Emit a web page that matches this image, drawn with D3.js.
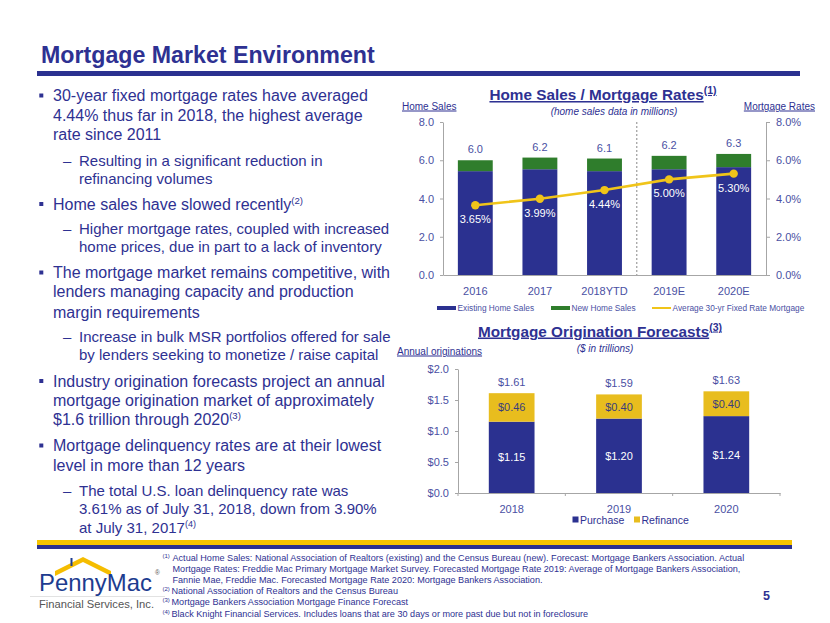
<!DOCTYPE html>
<html>
<head>
<meta charset="utf-8">
<script src="https://cdn.jsdelivr.net/npm/d3@7"></script>
<style>
  html,body{margin:0;padding:0;background:#fff;}
  svg{display:block;font-family:"Liberation Sans",Arial,sans-serif;}
</style>
</head>
<body>
<svg id="chart" width="830" height="623"></svg>
<script>
// ---------------- DATA ----------------
const salesYears = ["2016", "2017", "2018YTD", "2019E", "2020E"];
const existingSales = [5.43, 5.53, 5.43, 5.53, 5.64];
const newSales = [0.57, 0.61, 0.66, 0.70, 0.69];
const salesTotalLabels = ["6.0", "6.2", "6.1", "6.2", "6.3"];
const mortgageRates = [3.65, 3.99, 4.44, 5.00, 5.30];
const salesTicks = [0, 2, 4, 6, 8];
const rateTicks = [0, 0.02, 0.04, 0.06, 0.08];

const origYears = ["2018", "2019", "2020"];
const purchase = [1.15, 1.20, 1.24];
const refinance = [0.46, 0.39, 0.40];
const purchaseLabels = ["$1.15", "$1.20", "$1.24"];
const refinanceLabels = ["$0.46", "$0.40", "$0.40"];
const origTotalLabels = ["$1.61", "$1.59", "$1.63"];
const origTicks = [0, 0.5, 1.0, 1.5, 2.0];

const bullets = [
  {type: "b", lines: ["30-year fixed mortgage rates have averaged", "4.44% thus far in 2018, the highest average", "rate since 2011"], y: [101, 120.5, 140]},
  {type: "s", lines: ["Resulting in a significant reduction in", "refinancing volumes"], y: [165.5, 183.5]},
  {type: "b", lines: ["Home sales have slowed recently"], sup: "(2)", y: [209.5]},
  {type: "s", lines: ["Higher mortgage rates, coupled with increased", "home prices, due in part to a lack of inventory"], y: [234, 252]},
  {type: "b", lines: ["The mortgage market remains competitive, with", "lenders managing capacity and production", "margin requirements"], y: [278, 297, 317.5]},
  {type: "s", lines: ["Increase in bulk MSR portfolios offered for sale", "by lenders seeking to monetize / raise capital"], y: [342, 360]},
  {type: "b", lines: ["Industry origination forecasts project an annual", "mortgage origination market of approximately", "$1.6 trillion through 2020"], sup: "(3)", y: [386.5, 405.5, 424.5]},
  {type: "b", lines: ["Mortgage delinquency rates are at their lowest", "level in more than 12 years"], y: [451, 470.5]},
  {type: "s", lines: ["The total U.S. loan delinquency rate was", "3.61% as of July 31, 2018, down from 3.90%", "at July 31, 2017"], sup: "(4)", y: [496, 514, 532.5]}
];

const footnotes = [
  {n: "(1)", text: "Actual Home Sales: National Association of Realtors (existing) and the Census Bureau (new). Forecast: Mortgage Bankers Association. Actual"},
  {n: "", text: "Mortgage Rates: Freddie Mac Primary Mortgage Market Survey. Forecasted Mortgage Rate 2019: Average of Mortgage Bankers Association,"},
  {n: "", text: "Fannie Mae, Freddie Mac. Forecasted Mortgage Rate 2020: Mortgage Bankers Association."},
  {n: "(2)", text: "National Association of Realtors and the Census Bureau"},
  {n: "(3)", text: "Mortgage Bankers Association Mortgage Finance Forecast"},
  {n: "(4)", text: "Black Knight Financial Services. Includes loans that are 30 days or more past due but not in foreclosure"}
];

// ---------------- STYLE ----------------
const NAVY = "#2b3190";
const TXT = "#2e3192";
const TICK = "#4a50a3";
const GREEN = "#2f7d2c";
const YELLOW = "#f0c419";
const REFI = "#e8bd1e";
const AXIS = "#a6a6a6";

const svg = d3.select("#chart");

// ---------------- HEADER ----------------
svg.append("text").attr("x", 41).attr("y", 62.5)
  .attr("font-size", 23.2).attr("font-weight", "bold").attr("fill", TXT)
  .text("Mortgage Market Environment");
svg.append("rect").attr("x", 37).attr("y", 71).attr("width", 763).attr("height", 5).attr("fill", NAVY);

// ---------------- BULLETS ----------------
const bg = svg.append("g");
bullets.forEach(b => {
  const isB = b.type === "b";
  const fs = isB ? 16 : 15;
  const x = isB ? 53 : 79;
  if (isB) {
    bg.append("rect").attr("x", 39.3).attr("y", b.y[0] - 7.5).attr("width", 4).attr("height", 4).attr("fill", TXT);
  } else {
    bg.append("text").attr("x", 63).attr("y", b.y[0]).attr("font-size", fs).attr("fill", TXT).text("–");
  }
  b.lines.forEach((ln, i) => {
    const t = bg.append("text").attr("x", x).attr("y", b.y[i]).attr("font-size", fs).attr("fill", TXT).text(ln);
    if (b.sup && i === b.lines.length - 1) {
      t.append("tspan").attr("font-size", fs * 0.6).attr("dy", -6).text(b.sup);
    }
  });
});

// ---------------- CHART 1: Home Sales / Mortgage Rates ----------------
const c1 = svg.append("g");
const x1 = d3.scaleBand().domain(salesYears).range([443, 766]).paddingInner(0.46).paddingOuter(0.23);
const yL = d3.scaleLinear().domain([0, 8]).range([275, 122]);
const yR = d3.scaleLinear().domain([0, 0.08]).range([275, 122]);

// title
const t1 = c1.append("text").attr("x", 603).attr("y", 100).attr("text-anchor", "middle")
  .attr("font-size", 15.3).attr("font-weight", "bold").attr("fill", TXT)
  .style("text-decoration", "underline").text("Home Sales / Mortgage Rates");
t1.append("tspan").attr("font-size", 10.5).attr("dy", -6).text("(1)");
c1.append("text").attr("x", 614).attr("y", 114.5).attr("text-anchor", "middle")
  .attr("font-size", 10).attr("font-style", "italic").attr("fill", TXT).text("(home sales data in millions)");
c1.append("text").attr("x", 402).attr("y", 109.5).attr("font-size", 10).attr("fill", TXT)
  .style("text-decoration", "underline").text("Home Sales");
c1.append("text").attr("x", 815).attr("y", 109.5).attr("text-anchor", "end").attr("font-size", 10).attr("fill", TXT)
  .style("text-decoration", "underline").text("Mortgage Rates");

// axes
const axL = c1.append("g").attr("transform", "translate(443,0)")
  .call(d3.axisLeft(yL).tickValues(salesTicks).tickFormat(d3.format(".1f")).tickSizeInner(3).tickSizeOuter(0).tickPadding(6));
const axR = c1.append("g").attr("transform", "translate(766,0)")
  .call(d3.axisRight(yR).tickValues(rateTicks).tickFormat(d3.format(".1%")).tickSizeInner(4).tickSizeOuter(0).tickPadding(6));
const axB = c1.append("g").attr("transform", "translate(0,275)")
  .call(d3.axisBottom(x1).tickSize(0).tickPadding(12));
[axL, axR, axB].forEach(a => {
  a.selectAll("path,line").attr("stroke", AXIS);
  a.selectAll("text").attr("fill", TICK).attr("font-size", 11).attr("font-family", "Liberation Sans, Arial, sans-serif");
});

// divider
const divX = x1("2018YTD") + x1.bandwidth() + x1.step() * x1.paddingInner() / 2;
c1.append("line").attr("x1", divX).attr("x2", divX).attr("y1", yL(8)).attr("y2", yL(0))
  .attr("stroke", "#888").attr("stroke-width", 1).attr("stroke-dasharray", "2,2");

// bars
c1.selectAll(".ex").data(salesYears).enter().append("rect")
  .attr("x", d => x1(d)).attr("width", x1.bandwidth())
  .attr("y", (d, i) => yL(existingSales[i])).attr("height", (d, i) => yL(0) - yL(existingSales[i]))
  .attr("fill", NAVY);
c1.selectAll(".nw").data(salesYears).enter().append("rect")
  .attr("x", d => x1(d)).attr("width", x1.bandwidth())
  .attr("y", (d, i) => yL(existingSales[i] + newSales[i])).attr("height", (d, i) => yL(existingSales[i]) - yL(existingSales[i] + newSales[i]))
  .attr("fill", GREEN);
c1.selectAll(".tl").data(salesYears).enter().append("text")
  .attr("x", d => x1(d) + x1.bandwidth() / 2).attr("y", (d, i) => yL(existingSales[i] + newSales[i]) - 7)
  .attr("text-anchor", "middle").attr("font-size", 11).attr("fill", TICK).text((d, i) => salesTotalLabels[i]);

// line
const line = d3.line().x((d, i) => x1(salesYears[i]) + x1.bandwidth() / 2).y(d => yR(d / 100));
c1.append("path").datum(mortgageRates).attr("d", line).attr("fill", "none").attr("stroke", YELLOW).attr("stroke-width", 2.6);
c1.selectAll(".dot").data(mortgageRates).enter().append("circle")
  .attr("cx", (d, i) => x1(salesYears[i]) + x1.bandwidth() / 2).attr("cy", d => yR(d / 100))
  .attr("r", 4.2).attr("fill", YELLOW);
c1.selectAll(".rl").data(mortgageRates).enter().append("text")
  .attr("x", (d, i) => x1(salesYears[i]) + x1.bandwidth() / 2).attr("y", d => yR(d / 100) + 18)
  .attr("text-anchor", "middle").attr("font-size", 11).attr("fill", "#fff").text(d => d.toFixed(2) + "%");

// legend
const lg1 = c1.append("g").attr("font-size", 8.3).attr("fill", TICK);
const lgItems = [
  {label: "Existing Home Sales", x: 437, color: NAVY, h: 4},
  {label: "New Home Sales", x: 551, color: GREEN, h: 4},
  {label: "Average 30-yr Fixed Rate Mortgage", x: 652, color: YELLOW, h: 2}
];
lgItems.forEach(it => {
  lg1.append("rect").attr("x", it.x).attr("y", 308 - it.h / 2).attr("width", 19).attr("height", it.h).attr("fill", it.color);
  lg1.append("text").attr("x", it.x + 20.5).attr("y", 311).text(it.label);
});

// ---------------- CHART 2: Mortgage Origination Forecasts ----------------
const c2 = svg.append("g");
const x2 = d3.scaleBand().domain(origYears).range([458, 780]).paddingInner(0.574).paddingOuter(0.287);
const y2 = d3.scaleLinear().domain([0, 2]).range([493, 369]);

const t2 = c2.append("text").attr("x", 600).attr("y", 336.5).attr("text-anchor", "middle")
  .attr("font-size", 15.3).attr("font-weight", "bold").attr("fill", TXT)
  .style("text-decoration", "underline").text("Mortgage Origination Forecasts");
t2.append("tspan").attr("font-size", 10.5).attr("dy", -6).text("(3)");
c2.append("text").attr("x", 605).attr("y", 352).attr("text-anchor", "middle")
  .attr("font-size", 10).attr("font-style", "italic").attr("fill", TXT).text("($ in trillions)");
c2.append("text").attr("x", 397).attr("y", 354.5).attr("font-size", 10).attr("fill", TXT)
  .style("text-decoration", "underline").text("Annual originations");

const ax2L = c2.append("g").attr("transform", "translate(458,0)")
  .call(d3.axisLeft(y2).tickValues(origTicks).tickFormat(d => "$" + d3.format(".1f")(d)).tickSizeInner(3).tickSizeOuter(0).tickPadding(6));
const ax2B = c2.append("g").attr("transform", "translate(0,493)")
  .call(d3.axisBottom(x2).tickSize(0).tickPadding(12));
[ax2L, ax2B].forEach(a => {
  a.selectAll("path,line").attr("stroke", AXIS);
  a.selectAll("text").attr("fill", TICK).attr("font-size", 11).attr("font-family", "Liberation Sans, Arial, sans-serif");
});
// category boundary ticks
d3.range(origYears.length + 1).forEach(i => {
  const xx = x2.range()[0] + i * x2.step();
  c2.append("line").attr("x1", xx).attr("x2", xx).attr("y1", 493).attr("y2", 496).attr("stroke", AXIS);
});

c2.selectAll(".pu").data(origYears).enter().append("rect")
  .attr("x", d => x2(d)).attr("width", x2.bandwidth())
  .attr("y", (d, i) => y2(purchase[i])).attr("height", (d, i) => y2(0) - y2(purchase[i]))
  .attr("fill", NAVY);
c2.selectAll(".rf").data(origYears).enter().append("rect")
  .attr("x", d => x2(d)).attr("width", x2.bandwidth())
  .attr("y", (d, i) => y2(purchase[i] + refinance[i])).attr("height", (d, i) => y2(purchase[i]) - y2(purchase[i] + refinance[i]))
  .attr("fill", REFI);
c2.selectAll(".pl").data(origYears).enter().append("text")
  .attr("x", d => x2(d) + x2.bandwidth() / 2).attr("y", (d, i) => (y2(0) + y2(purchase[i])) / 2 + 4)
  .attr("text-anchor", "middle").attr("font-size", 11).attr("fill", "#fff").text((d, i) => purchaseLabels[i]);
c2.selectAll(".rl2").data(origYears).enter().append("text")
  .attr("x", d => x2(d) + x2.bandwidth() / 2).attr("y", (d, i) => (y2(purchase[i]) + y2(purchase[i] + refinance[i])) / 2 + 4)
  .attr("text-anchor", "middle").attr("font-size", 11).attr("fill", "#3a3d7c").text((d, i) => refinanceLabels[i]);
c2.selectAll(".ot").data(origYears).enter().append("text")
  .attr("x", d => x2(d) + x2.bandwidth() / 2).attr("y", (d, i) => y2(purchase[i] + refinance[i]) - 7.5)
  .attr("text-anchor", "middle").attr("font-size", 11).attr("fill", TICK).text((d, i) => origTotalLabels[i]);

const lg2 = c2.append("g").attr("font-size", 10.5).attr("fill", TXT);
[{label: "Purchase", x: 572.5, color: NAVY}, {label: "Refinance", x: 634, color: REFI}].forEach(it => {
  lg2.append("rect").attr("x", it.x).attr("y", 516.5).attr("width", 6).attr("height", 6).attr("fill", it.color);
  lg2.append("text").attr("x", it.x + 7.5).attr("y", 524).text(it.label);
});

// ---------------- FOOTER ----------------
svg.append("rect").attr("x", 37).attr("y", 540).attr("width", 755).attr("height", 5).attr("fill", "#f6c400");
svg.append("rect").attr("x", 37).attr("y", 545).attr("width", 755).attr("height", 4).attr("fill", NAVY);

const fg = svg.append("g").attr("font-family", "Liberation Sans Narrow, Arial Narrow, Liberation Sans, sans-serif").attr("fill", TXT);
footnotes.forEach((f, i) => {
  const y = 561 + i * 11.1;
  if (f.n) fg.append("text").attr("x", 162.5).attr("y", y - 3).attr("font-size", 6).text(f.n);
  fg.append("text").attr("x", f.n === "(1)" || f.n === "" ? 172.5 : 171.5).attr("y", y).attr("font-size", 9.1).text(f.text);
});
svg.append("text").attr("x", 763).attr("y", 600).attr("font-size", 12.5).attr("font-weight", "bold").attr("fill", TXT).text("5");

// logo
const lo = svg.append("g");
lo.append("rect").attr("x", 30).attr("y", 596).attr("width", 135).attr("height", 1).attr("fill", "#e2e2e2");
lo.append("path").attr("d", "M55,576 L83,562 L111,576 L111,571 L83,557 L55,571 Z").attr("fill", "#f5bd00");
lo.append("rect").attr("x", 70.5).attr("y", 558).attr("width", 2).attr("height", 8).attr("fill", "#1d3c8f");
lo.append("text").attr("x", 39).attr("y", 591).attr("font-size", 24).attr("fill", "#1d3c8f")
  .attr("textLength", 113).attr("lengthAdjust", "spacingAndGlyphs").text("PennyMac");
lo.append("text").attr("x", 155).attr("y", 575).attr("font-size", 6.5).attr("fill", "#555").text("®");
lo.append("text").attr("x", 39).attr("y", 608).attr("font-size", 11.5).attr("fill", "#555")
  .attr("textLength", 115).attr("lengthAdjust", "spacingAndGlyphs").text("Financial Services, Inc.");
</script>
</body>
</html>
